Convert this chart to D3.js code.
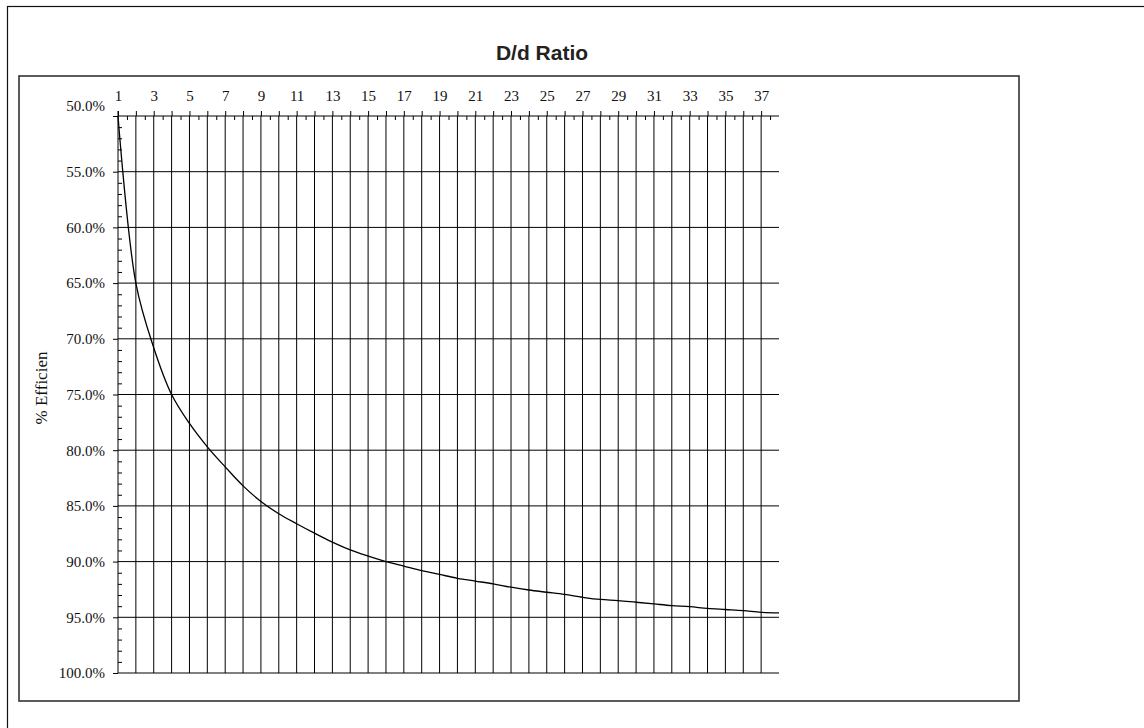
<!DOCTYPE html>
<html>
<head>
<meta charset="utf-8">
<script src="https://cdn.jsdelivr.net/npm/d3@7"></script>
<style>
  html, body { margin: 0; padding: 0; background: #fff; }
  svg { display: block; }
</style>
</head>
<body>
<svg id="chart" width="1144" height="728"></svg>
<script>
// ---- data ----
const ratios = [1,2,3,4,5,6,7,8,9,10,11,12,13,14,15,16,17,18,19,20,21,22,23,24,25,26,27,28,29,30,31,32,33,34,35,36,37,38];
const efficiency = [50.0,65.0,70.8,75.0,77.6,79.7,81.5,83.2,84.6,85.7,86.6,87.45,88.25,88.95,89.5,90.0,90.4,90.8,91.15,91.5,91.75,92.0,92.3,92.55,92.75,92.95,93.2,93.4,93.5,93.65,93.8,93.95,94.05,94.2,94.3,94.4,94.55,94.6];
const xTickValues = [1,2,3,4,5,6,7,8,9,10,11,12,13,14,15,16,17,18,19,20,21,22,23,24,25,26,27,28,29,30,31,32,33,34,35,36,37];
const xTickLabels = ["1","","3","","5","","7","","9","","11","","13","","15","","17","","19","","21","","23","","25","","27","","29","","31","","33","","35","","37"];
const yTickValues = [50,55,60,65,70,75,80,85,90,95,100];
const yTickLabels = ["50.0%","55.0%","60.0%","65.0%","70.0%","75.0%","80.0%","85.0%","90.0%","95.0%","100.0%"];
const titleText = "D/d Ratio";
const yTitleText = "% Efficien";

const svg = d3.select("#chart");
const x = d3.scaleLinear().domain([1, 38]).range([118, 779]);
const y = d3.scaleLinear().domain([50, 100]).range([116, 673]);

// outer chart border (extends past the viewport)
svg.append("rect").attr("x", 7.5).attr("y", 6.5).attr("width", 1160).attr("height", 740)
  .attr("fill", "none").attr("stroke", "#111").attr("stroke-width", 1.2);
// plot area border
svg.append("rect").attr("x", 19).attr("y", 76).attr("width", 1000).attr("height", 625)
  .attr("fill", "none").attr("stroke", "#333").attr("stroke-width", 1.6);

// title
svg.append("text").attr("x", 542).attr("y", 60).attr("text-anchor", "middle")
  .attr("font-family", "Liberation Sans, Arial, sans-serif").attr("font-weight", "bold")
  .attr("font-size", 21).attr("fill", "#222").text(titleText);

// gridlines
const grid = svg.append("g").attr("stroke", "#000").attr("stroke-width", 1);
grid.selectAll("line.h").data(yTickValues.slice(1)).join("line")
  .attr("x1", x(1)).attr("x2", x(38)).attr("y1", d => y(d)).attr("y2", d => y(d));
grid.selectAll("line.v").data(xTickValues.slice(1)).join("line")
  .attr("y1", y(50)).attr("y2", y(100)).attr("x1", d => x(d)).attr("x2", d => x(d));

const fontTick = "Liberation Serif, 'Times New Roman', serif";

// x axis (top), major ticks upward
const xAxis = svg.append("g").attr("transform", `translate(0,${y(50)})`)
  .call(d3.axisTop(x).tickValues(xTickValues).tickSizeInner(5).tickSizeOuter(0).tickPadding(10)
    .tickFormat((d, i) => xTickLabels[i]));
xAxis.select(".domain").attr("stroke", "#000").attr("d", `M${x(1)},0H${x(38)}`);
xAxis.selectAll("line").attr("stroke", "#000");
xAxis.selectAll("text").attr("font-family", fontTick).attr("font-size", 15).attr("fill", "#111");

// x minor ticks (half units, downward)
const xMinor = d3.range(1.5, 38, 1);
svg.append("g").attr("transform", `translate(0,${y(50)})`)
  .call(d3.axisBottom(x).tickValues(xMinor).tickSize(4).tickFormat(""))
  .call(g => g.select(".domain").remove())
  .selectAll("line").attr("stroke", "#000");

// y axis (left), major ticks outward
const yAxis = svg.append("g").attr("transform", `translate(${x(1)},0)`)
  .call(d3.axisLeft(y).tickValues(yTickValues).tickSizeInner(5).tickSizeOuter(0).tickPadding(8)
    .tickFormat((d, i) => yTickLabels[i]));
yAxis.select(".domain").attr("stroke", "#000").attr("d", `M0,${y(50) - 5}V${y(100)}`);
yAxis.selectAll("line").attr("stroke", "#000");
yAxis.selectAll("text").attr("font-family", fontTick).attr("font-size", 15).attr("fill", "#111");
yAxis.selectAll(".tick").filter(d => d === 50).select("text").attr("dy", "-0.35em");

// y minor ticks (every 1%, inward)
const yMinor = d3.range(51, 100, 1).filter(v => v % 5 !== 0);
svg.append("g").attr("transform", `translate(${x(1)},0)`)
  .call(d3.axisRight(y).tickValues(yMinor).tickSize(4).tickFormat(""))
  .call(g => g.select(".domain").remove())
  .selectAll("line").attr("stroke", "#000");

// y title
svg.append("text").attr("transform", "translate(47,388) rotate(-90)").attr("text-anchor", "middle")
  .attr("font-family", fontTick).attr("font-size", 17).attr("fill", "#111").text(yTitleText);

// curve
const pts = ratios.map((r, i) => [r, efficiency[i]]);
svg.append("path").datum(pts)
  .attr("fill", "none").attr("stroke", "#000").attr("stroke-width", 1.3)
  .attr("d", d3.line().x(d => x(d[0])).y(d => y(d[1])).curve(d3.curveCatmullRom.alpha(0.5)));
</script>
</body>
</html>
